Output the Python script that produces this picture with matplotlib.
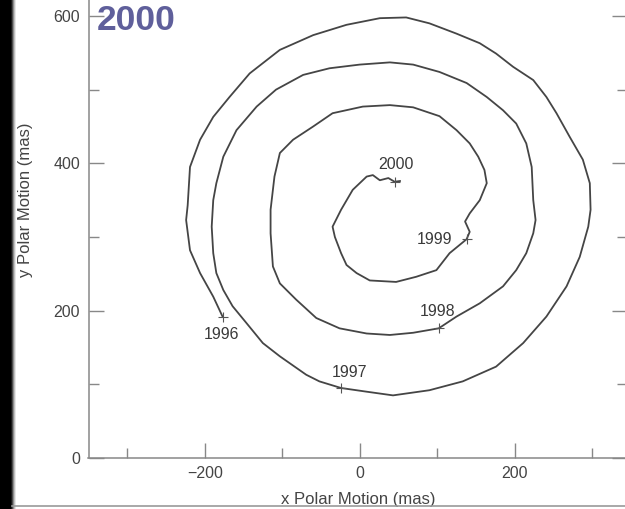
import numpy as np
import matplotlib
matplotlib.use("Agg")
import matplotlib.pyplot as plt
from matplotlib.ticker import MultipleLocator
from matplotlib.lines import Line2D

plt.rcParams['font.family'] = ['Liberation Sans', 'DejaVu Sans']

# Polar motion path 1996 -> 2000 (mas)
pm_x = [-177, -189, -206, -219, -224, -222, -219, -206, -189, -168, -142, -103, -60, -17,
        26, 60, 90, 125, 155, 176, 198, 224, 241, 254, 271, 288, 297, 298, 295, 284, 267,
        241, 211, 176, 133, 90, 43, 9, -24, -52, -69, -103, -125, -146, -164, -176, -185,
        -189, -191, -189, -185, -176, -159, -133, -108, -73, -39, 0, 39, 69, 103, 138, 164,
        185, 202, 215, 222, 224, 227, 224, 215, 202, 185, 155, 125, 102, 69, 39, 9, -26,
        -56, -82, -103, -112, -115, -115, -110, -103, -86, -60, -35, 4, 39, 69, 103, 125,
        142, 153, 161, 164, 155, 142, 136, 142, 138, 116, 99, 73, 47, 13, -4, -17, -24,
        -32, -35, -24, -9, 9, 17, 26, 37, 45, 52]
pm_y = [192, 219, 251, 282, 323, 343, 395, 432, 463, 490, 522, 554, 574, 588,
        597, 598, 590, 576, 563, 549, 531, 513, 490, 468, 436, 405, 373, 337, 314, 273, 233,
        192, 156, 124, 104, 92, 85, 90, 95, 104, 113, 138, 156, 183, 206, 228, 251,
        278, 314, 350, 373, 409, 445, 477, 500, 520, 529, 534, 537, 534, 524, 509, 490,
        472, 454, 427, 395, 350, 323, 305, 278, 255, 233, 210, 192, 176, 170, 167, 169, 176,
        190, 215, 237, 260, 305, 337, 382, 414, 432, 450, 468, 477, 479, 476, 464, 445,
        427, 409, 391, 373, 350, 332, 321, 307, 297, 278, 255, 246, 239, 241, 251, 262, 278,
        300, 314, 337, 364, 382, 384, 377, 380, 375, 376]

# start-of-year positions and their labels
years = ['1996', '1997', '1998', '1999', '2000']
year_x = [-177, -24, 102, 138, 45]
year_y = [192, 95, 176, 297, 375]
label_x = [-178, -13, 100, 97, 47]
label_y = [168, 116, 199, 297, 398]

W, H = 625, 509
fig = plt.figure(figsize=(W / 100, H / 100), dpi=100)
fig.patch.set_facecolor('white')

# dark frame edge on the left, thin rule along the bottom
edge = np.array([[0.0] * 11 + [0.1, 0.3, 0.55, 0.75, 0.9, 1.0]])
eax = fig.add_axes([0, 0, edge.shape[1] / W, 1], zorder=0)
eax.imshow(edge, cmap='gray', vmin=0, vmax=1, aspect='auto', interpolation='nearest')
eax.axis('off')

# axes runs past the top and right edges of the canvas
ax = fig.add_axes([88.5 / W, (H - 458) / H, (627 - 88.5) / W, (458 + 57.7) / H], zorder=1)
ax.patch.set_alpha(0)
ax.set_xlim(-350, 345)
ax.set_ylim(0, 700)

ax.plot(pm_x, pm_y, color='#454545', lw=1.3, solid_joinstyle='round')
ax.plot(year_x, year_y, ls='none', marker='+', ms=7, mew=0.8, color='#555555')
for t, lx, ly in zip(years, label_x, label_y):
    ax.text(lx, ly, t, ha='center', va='center', fontsize=11.5, color='#3a3a3a')

ax.xaxis.set_major_locator(MultipleLocator(200))
ax.xaxis.set_minor_locator(MultipleLocator(100))
ax.yaxis.set_major_locator(MultipleLocator(200))
ax.yaxis.set_minor_locator(MultipleLocator(100))
ax.tick_params(which='both', direction='in', right=True, color='#888888', width=1.0,
               labelsize=11.5, labelcolor='#444444')
ax.tick_params(which='major', length=11, pad=6)
ax.tick_params(which='minor', length=7)
ax.set_xticks([-200, 0, 200])
ax.set_xticklabels(['\u2212200', '0', '200'])
for s in ax.spines.values():
    s.set_color('#888888')
    s.set_linewidth(1.1)
ax.spines['top'].set_visible(False)

ax.set_xlabel('x Polar Motion (mas)', fontsize=12, color='#444444', labelpad=8)
ax.set_ylabel('y Polar Motion (mas)', fontsize=12, color='#444444')
ax.yaxis.set_label_coords(-55.5 / (627 - 88.5), 0.5)

fig.text(97 / W, 1 - 30 / H, '2000', fontsize=25.5, fontweight='bold',
         color='#5f5f9b', va='baseline', ha='left')

fig.add_artist(Line2D([12 / W, 1], [1 - 506 / H, 1 - 506 / H], color='#9a9a9a', lw=1.2))

fig.savefig('out.png', dpi=100)
